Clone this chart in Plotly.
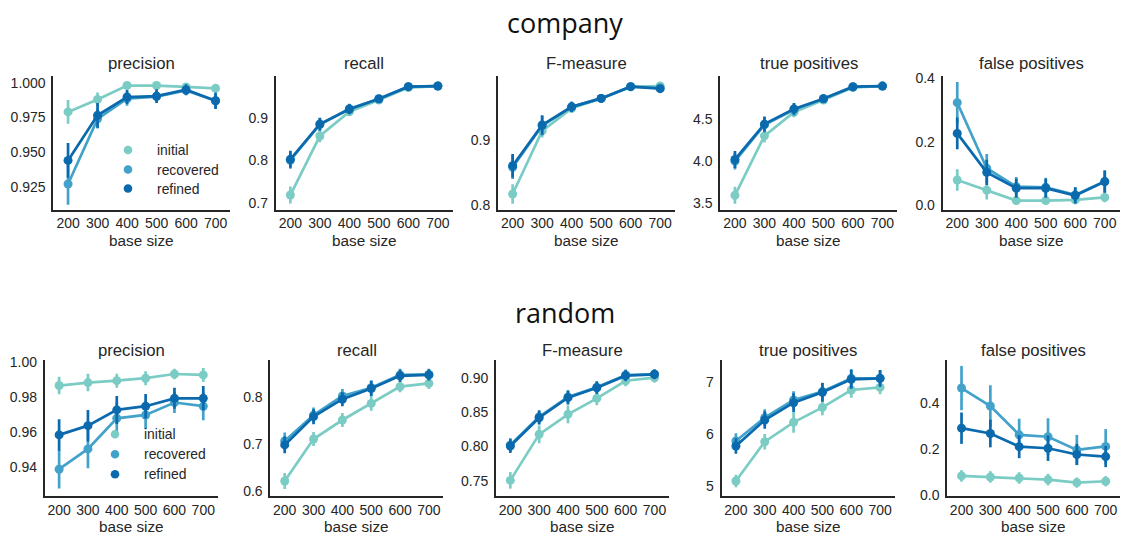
import plotly.graph_objects as go

# ---------------- data ----------------
base_sizes = ["200", "300", "400", "500", "600", "700"]
methods = ["initial", "recovered", "refined"]
metrics = ["precision", "recall", "F-measure", "true positives", "false positives"]
datasets = ["company", "random"]

# company dataset (means)
company_precision = {"initial":   [0.979, 0.988, 0.998, 0.998, 0.997, 0.996],
                     "recovered": [0.927, 0.974, 0.9885, 0.990, 0.9945, 0.987],
                     "refined":   [0.944, 0.9765, 0.9897, 0.9904, 0.995, 0.987]}
company_recall = {"initial":   [0.718, 0.857, 0.914, 0.9415, 0.971, 0.9745],
                  "recovered": [0.800, 0.884, 0.921, 0.944, 0.973, 0.9745],
                  "refined":   [0.802, 0.885, 0.920, 0.9447, 0.973, 0.9745]}
company_fmeasure = {"initial":   [0.817, 0.914, 0.9487, 0.964, 0.982, 0.983],
                    "recovered": [0.858, 0.922, 0.951, 0.964, 0.982, 0.980],
                    "refined":   [0.8605, 0.923, 0.951, 0.964, 0.982, 0.979]}
company_tp = {"initial":   [3.595, 4.30, 4.58, 4.725, 4.875, 4.89],
              "recovered": [4.00, 4.43, 4.61, 4.74, 4.88, 4.89],
              "refined":   [4.02, 4.44, 4.62, 4.74, 4.883, 4.89]}
company_fp = {"initial":   [0.079, 0.047, 0.014, 0.014, 0.016, 0.024],
              "recovered": [0.323, 0.116, 0.058, 0.056, 0.032, 0.074],
              "refined":   [0.226, 0.103, 0.053, 0.053, 0.030, 0.074]}

# company dataset (error bar half-lengths)
company_precision_err = {"initial":   [0.0086, 0.005, 0.0012, 0.001, 0.0015, 0.002],
                         "recovered": [0.015, 0.007, 0.005, 0.004, 0.003, 0.005],
                         "refined":   [0.0125, 0.009, 0.005, 0.005, 0.004, 0.006]}
company_recall_err = {"initial":   [0.020, 0.015, 0.010, 0.008, 0.005, 0.004],
                      "recovered": [0.020, 0.015, 0.012, 0.008, 0.005, 0.004],
                      "refined":   [0.020, 0.015, 0.012, 0.008, 0.005, 0.004]}
company_fmeasure_err = {"initial":   [0.015, 0.010, 0.007, 0.005, 0.003, 0.003],
                        "recovered": [0.018, 0.015, 0.008, 0.006, 0.004, 0.004],
                        "refined":   [0.018, 0.015, 0.008, 0.006, 0.004, 0.004]}
company_tp_err = {"initial":   [0.10, 0.08, 0.06, 0.04, 0.03, 0.02],
                  "recovered": [0.10, 0.09, 0.07, 0.05, 0.03, 0.02],
                  "refined":   [0.10, 0.09, 0.07, 0.05, 0.03, 0.02]}
company_fp_err = {"initial":   [0.034, 0.030, 0.008, 0.008, 0.010, 0.015],
                  "recovered": [0.065, 0.045, 0.030, 0.030, 0.025, 0.035],
                  "refined":   [0.050, 0.040, 0.030, 0.030, 0.025, 0.035]}

# random dataset (means)
random_precision = {"initial":   [0.9867, 0.9884, 0.9895, 0.9909, 0.9933, 0.9928],
                    "recovered": [0.9389, 0.9505, 0.968, 0.9699, 0.977, 0.9749],
                    "refined":   [0.9585, 0.9638, 0.9728, 0.9749, 0.9794, 0.9794]}
random_recall = {"initial":   [0.6207, 0.7107, 0.7514, 0.787, 0.8229, 0.830],
                 "recovered": [0.7064, 0.762, 0.803, 0.8207, 0.848, 0.849],
                 "refined":   [0.698, 0.7586, 0.796, 0.819, 0.846, 0.848]}
random_fmeasure = {"initial":   [0.7505, 0.8175, 0.8466, 0.870, 0.8956, 0.900],
                   "recovered": [0.802, 0.843, 0.872, 0.886, 0.904, 0.905],
                   "refined":   [0.8005, 0.8417, 0.8709, 0.8854, 0.903, 0.905]}
random_tp = {"initial":   [5.09, 5.846, 6.218, 6.506, 6.84, 6.89],
             "recovered": [5.859, 6.31, 6.647, 6.81, 7.064, 7.064],
             "refined":   [5.763, 6.263, 6.596, 6.795, 7.045, 7.064]}
random_fp = {"initial":   [0.083, 0.0786, 0.074, 0.067, 0.054, 0.060],
             "recovered": [0.464, 0.386, 0.261, 0.253, 0.196, 0.211],
             "refined":   [0.290, 0.267, 0.210, 0.203, 0.176, 0.167]}

# random dataset (error bar half-lengths)
random_precision_err = {"initial":   [0.005, 0.005, 0.004, 0.004, 0.003, 0.004],
                        "recovered": [0.011, 0.011, 0.009, 0.008, 0.006, 0.008],
                        "refined":   [0.009, 0.009, 0.008, 0.007, 0.006, 0.007]}
random_recall_err = {"initial":   [0.017, 0.015, 0.015, 0.016, 0.012, 0.012],
                     "recovered": [0.018, 0.016, 0.015, 0.016, 0.013, 0.012],
                     "refined":   [0.018, 0.016, 0.015, 0.016, 0.013, 0.012]}
random_fmeasure_err = {"initial":   [0.012, 0.013, 0.013, 0.010, 0.008, 0.007],
                       "recovered": [0.010, 0.010, 0.010, 0.009, 0.008, 0.007],
                       "refined":   [0.010, 0.010, 0.010, 0.009, 0.008, 0.007]}
random_tp_err = {"initial":   [0.12, 0.15, 0.20, 0.15, 0.15, 0.13],
                 "recovered": [0.15, 0.16, 0.17, 0.17, 0.18, 0.15],
                 "refined":   [0.15, 0.17, 0.18, 0.18, 0.18, 0.16]}
random_fp_err = {"initial":   [0.025, 0.025, 0.025, 0.025, 0.022, 0.022],
                 "recovered": [0.096, 0.090, 0.070, 0.080, 0.065, 0.075],
                 "refined":   [0.068, 0.060, 0.050, 0.055, 0.046, 0.046]}

# y tick values per panel
company_ticks = [[0.925, 0.950, 0.975, 1.000], [0.7, 0.8, 0.9], [0.8, 0.9],
                 [3.5, 4.0, 4.5], [0.0, 0.2, 0.4]]
random_ticks = [[0.94, 0.96, 0.98, 1.00], [0.6, 0.7, 0.8], [0.75, 0.80, 0.85, 0.90],
                [5, 6, 7], [0.0, 0.2, 0.4]]

# ---------------- style / layout ----------------
W, H = 1130, 535
colors = {"initial": "#7bccc4", "recovered": "#43a2ca", "refined": "#0b6aad"}
TXT = "#262626"
FONT = "Liberation Sans, Arial, sans-serif"

company_ranges = [[0.90863, 1.00524], [0.684, 0.9993], [0.7931, 0.9992],
                  [3.4265, 5.016], [-0.0142, 0.4088]]
random_ranges = [[0.9236, 1.0013], [0.5886, 0.880], [0.7277, 0.9258],
                 [4.802, 7.417], [-0.004, 0.5856]]
company_fmt = [".3f", ".1f", ".1f", ".1f", ".1f"]
random_fmt = [".2f", ".1f", ".2f", ".0f", ".1f"]

rows = [
    dict(name="company", lefts=[53.3 + 222.3 * i for i in range(5)], width=177,
         top=75.5, bottom=209.5, title_y=64, xlabel_y=240.5, head_y=22,
         legend=(128, 154.5, [150, 169.5, 188.5]),
         series=[company_precision, company_recall, company_fmeasure, company_tp, company_fp],
         errs=[company_precision_err, company_recall_err, company_fmeasure_err, company_tp_err, company_fp_err],
         ranges=company_ranges, ticks=company_ticks, fmt=company_fmt),
    dict(name="random", lefts=[44.7 + 225.6 * i for i in range(5)], width=173,
         top=360, bottom=496, title_y=350, xlabel_y=526.5, head_y=312,
         legend=(115, 141.7, [434.3, 454.3, 474.3]),
         series=[random_precision, random_recall, random_fmeasure, random_tp, random_fp],
         errs=[random_precision_err, random_recall_err, random_fmeasure_err, random_tp_err, random_fp_err],
         ranges=random_ranges, ticks=random_ticks, fmt=random_fmt),
]

fx = lambda x: x / W
fy = lambda y: 1 - y / H

fig = go.Figure()
layout = dict(width=W, height=H, template="none",
              margin=dict(l=0, r=0, t=0, b=0, pad=0, autoexpand=False),
              paper_bgcolor="white", plot_bgcolor="white",
              font=dict(family=FONT, color=TXT, size=14), showlegend=False)
annotations = []
shapes = []

for r, row in enumerate(rows):
    for c in range(5):
        idx = r * 5 + c + 1
        xa = "x" if idx == 1 else f"x{idx}"
        ya = "y" if idx == 1 else f"y{idx}"
        left = row["lefts"][c]
        right = left + row["width"]
        layout["xaxis" if idx == 1 else f"xaxis{idx}"] = dict(
            domain=[fx(left), fx(right)], anchor=ya, type="category",
            categoryorder="array", categoryarray=base_sizes, automargin=False,
            range=[-0.5, 5.5], showline=True, linecolor=TXT, linewidth=1.7,
            showgrid=False, zeroline=False, ticks="",
            tickfont=dict(size=14, color=TXT, family=FONT))
        layout["yaxis" if idx == 1 else f"yaxis{idx}"] = dict(
            domain=[fy(row["bottom"]), fy(row["top"])], anchor=xa, automargin=False,
            range=row["ranges"][c], tickvals=row["ticks"][c], tickformat=row["fmt"][c],
            showline=True, linecolor=TXT, linewidth=1.7,
            showgrid=False, zeroline=False, ticks="outside", ticklen=3,
            tickcolor="rgba(0,0,0,0)", tickfont=dict(size=14, color=TXT, family=FONT))
        data = row["series"][c]
        errs = row["errs"][c]
        for m in methods:
            fig.add_trace(go.Scatter(
                x=base_sizes, y=data[m], mode="lines+markers", name=m,
                xaxis=xa, yaxis=ya,
                line=dict(color=colors[m], width=2.7),
                marker=dict(color=colors[m], size=9, line=dict(width=0)),
                error_y=dict(type="data", array=errs[m], visible=True,
                             color=colors[m], thickness=2.7, width=0),
                showlegend=False, hoverinfo="skip"))
        cx = (left + right) / 2
        annotations.append(dict(text=metrics[c], x=fx(cx), y=fy(row["title_y"]),
                                xref="paper", yref="paper", showarrow=False,
                                xanchor="center", yanchor="middle",
                                font=dict(size=16.7, color=TXT, family=FONT)))
        annotations.append(dict(text="base size", x=fx(cx), y=fy(row["xlabel_y"]),
                                xref="paper", yref="paper", showarrow=False,
                                xanchor="center", yanchor="middle",
                                font=dict(size=15.3, color=TXT, family=FONT)))
    # row heading
    annotations.append(dict(text=row["name"], x=fx(565), y=fy(row["head_y"]),
                            xref="paper", yref="paper", showarrow=False,
                            xanchor="center", yanchor="middle",
                            font=dict(size=27, color="#111111", family="Open Sans, sans-serif")))
    # legend (inside first panel)
    mx, tx, ys = row["legend"]
    for m, yy in zip(methods, ys):
        rr = 4.3
        shapes.append(dict(type="circle", xref="paper", yref="paper",
                           x0=fx(mx - rr), x1=fx(mx + rr), y0=fy(yy + rr), y1=fy(yy - rr),
                           fillcolor=colors[m], line=dict(width=0)))
        annotations.append(dict(text=m, x=fx(tx), y=fy(yy), xref="paper", yref="paper",
                                showarrow=False, xanchor="left", yanchor="middle",
                                font=dict(size=13.9, color=TXT, family=FONT)))

layout["annotations"] = annotations
layout["shapes"] = shapes
fig.update_layout(**layout)
fig.write_html("out.html")
